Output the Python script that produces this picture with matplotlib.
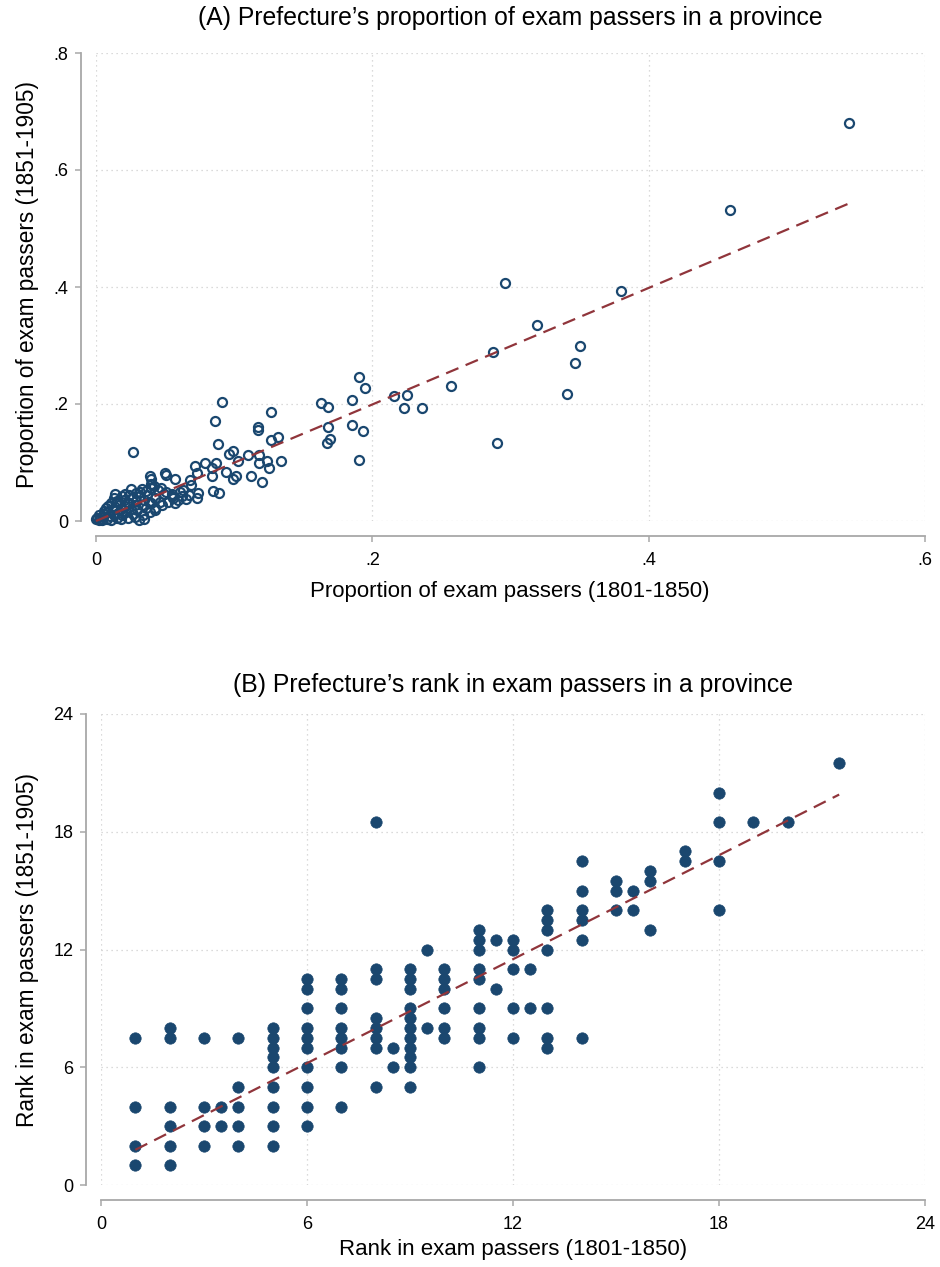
import numpy as np
import matplotlib
matplotlib.use("Agg")
import matplotlib.pyplot as plt
from matplotlib import font_manager

# fonts: narrow Arial-like face if there is one, else Liberation Sans
names = {f.name for f in font_manager.fontManager.ttflist}
narrow = "Liberation Sans Narrow" if "Liberation Sans Narrow" in names else "Liberation Sans"
regular = "Liberation Sans"

# ---- data: panel A (proportions) ----
share_1850 = [
    0.545, 0.459, 0.380, 0.296, 0.319, 0.287, 0.350, 0.347, 0.341, 0.290,
    0.257, 0.216, 0.225, 0.223, 0.236, 0.190, 0.195, 0.185, 0.163, 0.168,
    0.168, 0.169, 0.167, 0.185, 0.193, 0.190,
    0.091, 0.086, 0.088, 0.027, 0.127, 0.117, 0.117, 0.127, 0.132, 0.096,
    0.099, 0.110, 0.118, 0.118, 0.124, 0.125, 0.134, 0.120, 0.112, 0.094,
    0.101, 0.099, 0.103, 0.079, 0.087, 0.084, 0.084, 0.072, 0.073, 0.068,
    0.069, 0.085, 0.089, 0.074, 0.073, 0.067, 0.065, 0.063,
    0.050, 0.051, 0.057, 0.039, 0.040, 0.040, 0.040, 0.042, 0.045, 0.049,
    0.047, 0.051, 0.055, 0.061, 0.057, 0.043, 0.046, 0.052, 0.055, 0.056,
    0.040, 0.043, 0.048, 0.043, 0.059, 0.062,
    0.025, 0.014, 0.021, 0.029, 0.032, 0.011, 0.007, 0.002, 0.001, 0.031,
    0.003, 0.005, 0.004, 0.006, 0.008, 0.009, 0.010, 0.012, 0.013, 0.014,
    0.015, 0.016, 0.017, 0.018, 0.019, 0.020, 0.021, 0.022, 0.023, 0.024,
    0.025, 0.026, 0.027, 0.028, 0.029, 0.030, 0.032, 0.033, 0.034, 0.035,
    0.036, 0.037, 0.038, 0.039, 0.036, 0.033, 0.011, 0.018, 0.006, 0.002,
    0.000, 0.019, 0.009, 0.015, 0.024, 0.013, 0.028, 0.035,
]
share_1905 = [
    0.680, 0.532, 0.393, 0.406, 0.335, 0.289, 0.300, 0.270, 0.217, 0.133,
    0.230, 0.214, 0.215, 0.193, 0.194, 0.247, 0.228, 0.207, 0.201, 0.195,
    0.161, 0.140, 0.133, 0.164, 0.154, 0.104,
    0.203, 0.171, 0.131, 0.118, 0.186, 0.160, 0.156, 0.139, 0.144, 0.114,
    0.119, 0.113, 0.112, 0.099, 0.103, 0.090, 0.103, 0.067, 0.077, 0.084,
    0.077, 0.071, 0.103, 0.099, 0.100, 0.090, 0.077, 0.094, 0.082, 0.070,
    0.062, 0.052, 0.048, 0.048, 0.039, 0.044, 0.037, 0.053,
    0.082, 0.079, 0.071, 0.077, 0.071, 0.064, 0.056, 0.059, 0.053, 0.047,
    0.056, 0.050, 0.042, 0.050, 0.030, 0.039, 0.033, 0.033, 0.047, 0.039,
    0.030, 0.022, 0.027, 0.019, 0.036, 0.043,
    0.055, 0.047, 0.047, 0.048, 0.050, 0.030, 0.022, 0.010, 0.005, 0.002,
    0.003, 0.006, 0.001, 0.012, 0.004, 0.015, 0.008, 0.018, 0.010, 0.024,
    0.005, 0.014, 0.030, 0.020, 0.010, 0.036, 0.025, 0.015, 0.005, 0.031,
    0.020, 0.040, 0.012, 0.027, 0.035, 0.018, 0.042, 0.028, 0.010, 0.036,
    0.022, 0.045, 0.032, 0.015, 0.051, 0.054, 0.001, 0.003, 0.017, 0.002,
    0.004, 0.043, 0.026, 0.035, 0.045, 0.040, 0.007, 0.003,
]

# ---- data: panel B (ranks) ----
rank_1850 = ([1] * 4 + [2] * 6 + [3] * 4 + [3.5] * 2 + [4] * 5 + [5] * 9 + [6] * 10
             + [7] * 8 + [8] * 8 + [8.5] * 2 + [9] * 11 + [9.5] * 2 + [10] * 6
             + [11] * 9 + [11.5] * 2 + [12] * 5 + [12.5] * 2 + [13] * 7 + [14] * 6
             + [15] * 3 + [15.5] * 2 + [16] * 3 + [17] * 2 + [18] * 4 + [19, 20, 21.5])
rank_1905 = ([7.5, 4, 2, 1] + [8, 7.5, 4, 3, 2, 1] + [7.5, 4, 3, 2] + [4, 3]
             + [7.5, 5, 4, 3, 2] + [8, 7.5, 7, 6.5, 6, 5, 4, 3, 2]
             + [10.5, 10, 9, 8, 7.5, 7, 6, 5, 4, 3]
             + [10.5, 10, 9, 8, 7.5, 7, 6, 4]
             + [18.5, 11, 10.5, 8.5, 8, 7.5, 7, 5] + [7, 6]
             + [11, 10.5, 10, 9, 8.5, 8, 7.5, 7, 6.5, 6, 5] + [12, 8]
             + [11, 10.5, 10, 9, 8, 7.5]
             + [13, 12.5, 12, 11, 10.5, 9, 8, 7.5, 6] + [12.5, 10]
             + [12.5, 12, 11, 9, 7.5] + [11, 9]
             + [14, 13.5, 13, 12, 9, 7.5, 7]
             + [16.5, 15, 14, 13.5, 12.5, 7.5]
             + [15.5, 15, 14] + [15, 14] + [16, 15.5, 13] + [17, 16.5]
             + [20, 18.5, 16.5, 14] + [18.5, 18.5, 21.5])

# linear fit coefficients (slope, intercept)
fit_a = (0.996, 0.0)
fit_b = (0.883, 0.91)

navy = "#1a476f"
maroon = "#90353b"
axis_grey = "#a8a8a8"
grid_grey = "#cfcfcf"

W, H = 940, 1267
fig = plt.figure(figsize=(W / 100, H / 100), dpi=100)


def box(l, r, t, b):
    return [l / W, 1 - b / H, (r - l) / W, (b - t) / H]


def style(ax, xticks, yticks, xlabels, ylabels, off):
    # spine positioning resets the ticks, so it goes first
    for s in ["top", "right"]:
        ax.spines[s].set_visible(False)
    for s in ["left", "bottom"]:
        ax.spines[s].set_position(("outward", off))
        ax.spines[s].set_color(axis_grey)
        ax.spines[s].set_linewidth(1.3)
    ax.set_xticks(xticks, xlabels)
    ax.set_yticks(yticks, ylabels)
    ax.spines["left"].set_bounds(yticks[0], yticks[-1])
    ax.spines["bottom"].set_bounds(xticks[0], xticks[-1])
    ax.tick_params(direction="out", length=4.5, width=1.1, color=axis_grey,
                   labelcolor="black", labelsize=13, labelfontfamily=narrow)
    ax.tick_params(axis="x", pad=7)
    ax.tick_params(axis="y", pad=5)
    ax.grid(True, color=grid_grey, linestyle=(0, (1, 3)), linewidth=0.9)
    ax.set_axisbelow(True)


# ---- panel A ----
ax1 = fig.add_axes(box(96, 925, 53, 521))
ax1.set_xlim(0, 0.6)
ax1.set_ylim(0, 0.8)
style(ax1, [0, 0.2, 0.4, 0.6], [0, 0.2, 0.4, 0.6, 0.8],
      ["0", ".2", ".4", ".6"], ["0", ".2", ".4", ".6", ".8"], 10.5)
ax1.plot(share_1850, share_1905, "o", ms=6.5, mfc="none", mec=navy, mew=1.6,
         clip_on=False, zorder=3)
xa = np.array([min(share_1850), max(share_1850)])
ax1.plot(xa, fit_a[0] * xa + fit_a[1], color=maroon, lw=1.6,
         dashes=(6, 3.5), clip_on=False, zorder=4)

fig.text(510 / W, 1 - 18 / H, "(A) Prefecture\u2019s proportion of exam passers in a province",
         ha="center", va="center", fontfamily=narrow, fontsize=17.8)
fig.text(510 / W, 1 - 591 / H, "Proportion of exam passers (1801-1850)",
         ha="center", va="center", fontfamily=narrow, fontsize=16)
fig.text(28 / W, 1 - 284 / H, "Proportion of exam passers (1851-1905)",
         ha="center", va="center", rotation=90, fontfamily=regular, fontsize=16.3)

# ---- panel B ----
ax2 = fig.add_axes(box(101, 925, 714, 1185))
ax2.set_xlim(0, 24)
ax2.set_ylim(0, 24)
ticks_b = [0, 6, 12, 18, 24]
style(ax2, ticks_b, ticks_b, [str(t) for t in ticks_b], [str(t) for t in ticks_b], 10.5)
ax2.plot(rank_1850, rank_1905, "o", ms=8.2, mfc=navy, mec=navy, mew=0.5,
         clip_on=False, zorder=3)
xb = np.array([min(rank_1850), max(rank_1850)])
ax2.plot(xb, fit_b[0] * xb + fit_b[1], color=maroon, lw=1.6,
         dashes=(6, 3.5), clip_on=False, zorder=4)

fig.text(513 / W, 1 - 685 / H, "(B) Prefecture\u2019s rank in exam passers in a province",
         ha="center", va="center", fontfamily=narrow, fontsize=17.8)
fig.text(513 / W, 1 - 1250 / H, "Rank in exam passers (1801-1850)",
         ha="center", va="center", fontfamily=narrow, fontsize=16)
fig.text(28 / W, 1 - 950 / H, "Rank in exam passers (1851-1905)",
         ha="center", va="center", rotation=90, fontfamily=regular, fontsize=16.3)

fig.savefig("out.png", dpi=100, facecolor="white")
